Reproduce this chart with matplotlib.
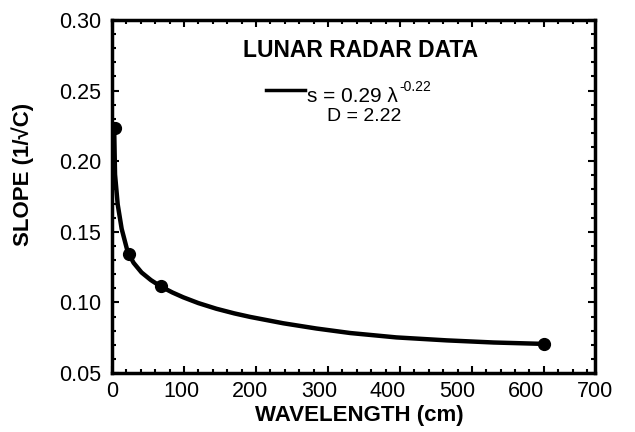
import matplotlib
matplotlib.use("Agg")
import matplotlib.pyplot as plt
from matplotlib.ticker import MultipleLocator, FixedLocator
from matplotlib.lines import Line2D

plt.rcParams['font.family'] = ['Liberation Sans', 'DejaVu Sans']

# Measured data points
wavelength = [3.8, 23, 68, 600]
slope = [0.2234, 0.1345, 0.1115, 0.0705]

# Fitted curve (s = 0.29 * lambda^-0.22)
curve_x = [3, 4.2, 7.9, 13.4, 21.8, 30, 41, 54, 68, 84, 99, 120, 145, 170, 192,
           238, 284, 331, 395, 465, 530, 600]
curve_y = [0.2234, 0.1906, 0.1694, 0.1521, 0.1357, 0.1280, 0.1212, 0.1158, 0.1112,
           0.1070, 0.1036, 0.0995, 0.0955, 0.0922, 0.0897, 0.0852, 0.0815, 0.0783,
           0.0752, 0.0731, 0.0716, 0.0706]

xtick_values = [0, 100, 200, 300, 400, 500, 600, 700]
ytick_values = [0.05, 0.10, 0.15, 0.20, 0.25, 0.30]

title_text = "LUNAR RADAR DATA"
fit_text = "s = 0.29 \u03bb"
fit_exp = "-0.22"
dim_text = "D = 2.22"
xlabel = "WAVELENGTH (cm)"
ylabel = "SLOPE (1/\u221aC)"

fig = plt.figure(figsize=(6.35, 4.32), dpi=100)
rect = [0.1764, 0.1366, 0.7606, 0.8171]
ax = fig.add_axes(rect)

ax.plot(curve_x, curve_y, color='black', lw=3.2, solid_capstyle='round', solid_joinstyle='round')
ax.plot(wavelength, slope, 'o', color='black', ms=8.5)

ax.set_xlim(0, 671)
ax.set_ylim(0.05, 0.30)
ax.xaxis.set_major_locator(MultipleLocator(100))
ax.xaxis.set_minor_locator(MultipleLocator(20))
ax.yaxis.set_major_locator(FixedLocator(ytick_values))
ax.yaxis.set_minor_locator(MultipleLocator(0.01))
ax.set_xticklabels([])
ax.set_yticklabels(["%.2f" % v for v in ytick_values])
ax.tick_params(which='both', direction='in', top=True, right=True, width=1.5)
ax.tick_params(which='major', length=5)
ax.tick_params(which='minor', length=3)
ax.tick_params(axis='y', labelsize=15.5, pad=8)
for s in ax.spines.values():
    s.set_linewidth(2.5)

fig.text(23 / 635, 1 - 174 / 432, ylabel, rotation=90, ha='center', va='center',
         fontsize=16, fontweight='bold')

# tick-label axis (labels as printed in the figure)
ax2 = fig.add_axes(rect, frameon=False)
ax2.set_xlim(0, 700)
ax2.set_xticks(xtick_values)
ax2.set_xticklabels([str(v) for v in xtick_values])
ax2.tick_params(axis='x', length=0, labelsize=15.5, pad=6)
ax2.set_yticks([])

fig.text(359 / 635, 1 - 416 / 432, xlabel, ha='center', va='center',
         fontsize=16, fontweight='bold')

ax.text(0.515, 0.896, title_text, transform=ax.transAxes, ha='center', va='baseline',
        fontsize=16.5, fontweight='bold')
ax.add_line(Line2D([0.319, 0.400], [0.802, 0.802], transform=ax.transAxes, color='black', lw=2.5))
t = ax.text(0.404, 0.768, fit_text, transform=ax.transAxes, ha='left', va='baseline', fontsize=15)
ax.annotate(fit_exp, xy=(1.0, 0.62), xycoords=t, xytext=(1, 0), textcoords='offset points',
            ha='left', va='bottom', fontsize=10)
ax.text(0.522, 0.715, dim_text, transform=ax.transAxes, ha='center', va='baseline', fontsize=14)

fig.savefig("out.png", dpi=100)
